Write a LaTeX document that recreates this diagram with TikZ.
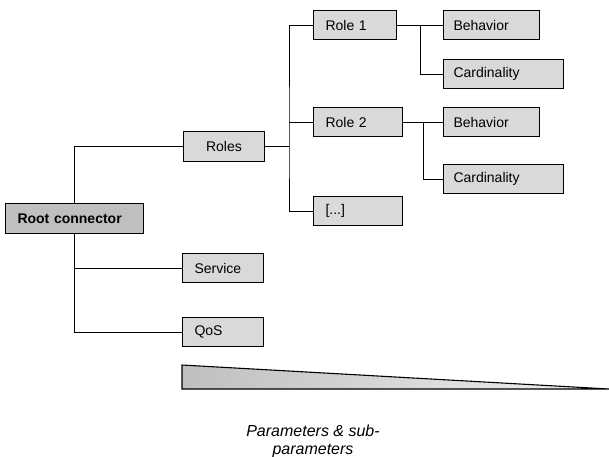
\documentclass[tikz,border=0pt]{standalone}
\usepackage{fontspec}
\setmainfont{Liberation Sans}
\begin{document}
\begin{tikzpicture}[x=1pt,y=-1pt,
  box/.style={draw=black, line width=1pt, fill=gray!30, anchor=north west,
    inner ysep=0pt, minimum height=29pt, align=left,
    font=\fontsize{14}{16}\selectfont},
  rootbox/.style={box, fill=gray!50, font=\fontsize{14}{16}\selectfont\bfseries},
  link/.style={draw=black, line width=0.9pt},
  caption/.style={align=center, font=\fontsize{16}{18}\selectfont\itshape}]
  \useasboundingbox (0,0) rectangle (609,456);

  % first level
  \node[rootbox, text width=114pt, inner xsep=12pt, minimum height=30pt] (root) at (5,203) {Root connector};
  \node[box, text width=59pt, inner xsep=11pt, align=center, minimum height=30pt] (roles) at (183,131) {Roles};
  \node[box, text width=57pt, inner xsep=12pt] (service) at (182,253) {Service};
  \node[box, text width=57pt, inner xsep=12pt] (qos) at (182,317) {QoS};

  % roles
  \node[box, text width=59pt, inner xsep=12pt] (role1) at (313,10) {Role 1};
  \node[box, text width=65pt, inner xsep=12pt] (role2) at (313,107) {Role 2};
  \node[box, text width=65pt, inner xsep=12pt] (dots) at (313,196) {[...]};

  % role parameters
  \node[box, text width=76pt, inner xsep=10pt] (beh1) at (443,10) {Behavior};
  \node[box, text width=100pt, inner xsep=10pt] (card1) at (443,59) {Cardinality};
  \node[box, text width=76pt, inner xsep=10pt] (beh2) at (443,107) {Behavior};
  \node[box, text width=100pt, inner xsep=10pt] (card2) at (443,164) {Cardinality};

  % tree connectors
  \draw[link] (roles.west) -| (root.north);
  \draw[link] (root.south) |- (service.west);
  \draw[link] (root.south) |- (qos.west);

  \draw[link] (roles.east) -- ++(24,0) coordinate (rj);
  \draw[link] (role1.west) -| (rj) |- (dots.west);
  \draw[link] (role2.west) -- (role2.west -| rj);

  \draw[link] (role1.east) -- (beh1.west) coordinate[pos=0.5] (j1);
  \draw[link] (j1) |- (card1.west);
  \draw[link] (role2.east) -- (beh2.west) coordinate[pos=0.5] (j2);
  \draw[link] (j2) |- (card2.west);

  % decreasing wedge
  \shade[left color=gray!50, right color=gray!12] (182,365) -- (609,389) -- (182,389) -- cycle;
  \draw[line width=1.1pt, line join=miter] (609,389) -- (182,365) -- (182,389) -- (609,389);

  \node[caption] (cap) at (313,441) {Parameters \& sub-\\parameters};
\end{tikzpicture}
\end{document}
